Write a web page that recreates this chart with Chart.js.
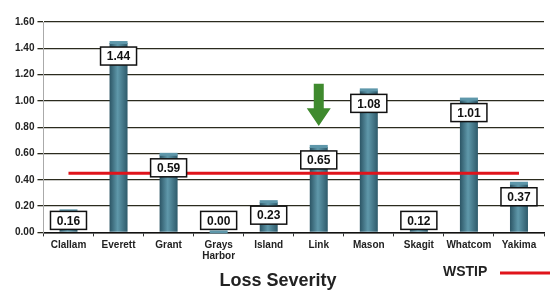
<!DOCTYPE html>
<html>
<head>
<meta charset="utf-8">
<script src="https://cdn.jsdelivr.net/npm/chart.js@4"></script>
<style>
  html, body { margin: 0; padding: 0; background: #fff; }
  #wrap { width: 550px; height: 294px; }
</style>
</head>
<body>
<div id="wrap"><canvas id="chart" width="550" height="294"></canvas></div>
<script>
const categories = ["Clallam", "Everett", "Grant", ["Grays", "Harbor"], "Island", "Link", "Mason", "Skagit", "Whatcom", "Yakima"];
const severity = [0.16, 1.44, 0.59, 0.00, 0.23, 0.65, 1.08, 0.12, 1.01, 0.37];
const wstip = [0.45, 0.45, 0.45, 0.45, 0.45, 0.45, 0.45, 0.45, 0.45, 0.45];
const yTicks = [0, 0.2, 0.4, 0.6, 0.8, 1.0, 1.2, 1.4, 1.6];
// arrow over "Link" pointing down (value range it spans)
const arrowIndex = 5;
const arrowFrom = 1.13;
const arrowTo = 0.81;

const font = "'Liberation Sans Narrow', 'Liberation Sans', Arial, sans-serif";

// cylinder-ish gradient per bar
function barFill(ctx) {
  const chart = ctx.chart;
  if (!chart.chartArea) return "#4a8396";
  const x = chart.scales.x.getPixelForValue(ctx.dataIndex);
  const g = chart.ctx.createLinearGradient(x - 9, 0, x + 9, 0);
  g.addColorStop(0, "#2c5565");
  g.addColorStop(0.45, "#5f98aa");
  g.addColorStop(1, "#2e5a6a");
  return g;
}

// boxed value labels, bar caps, legend and the green arrow
const extras = {
  id: "extras",
  afterDatasetsDraw(chart) {
    const c = chart.ctx;
    const meta = chart.getDatasetMeta(1);
    meta.data.forEach((bar) => {
      c.save();
      c.fillStyle = "#5e97aa";
      c.fillRect(bar.x - bar.width / 2, bar.y - 2, bar.width, 3);
      c.restore();
    });

    const ax = chart.scales.x.getPixelForValue(arrowIndex);
    const y1 = chart.scales.y.getPixelForValue(arrowFrom);
    const y2 = chart.scales.y.getPixelForValue(arrowTo);
    const headH = (y2 - y1) * 0.42;
    c.save();
    c.fillStyle = "#3f8a2e";
    c.beginPath();
    c.moveTo(ax - 5, y1);
    c.lineTo(ax + 5, y1);
    c.lineTo(ax + 5, y2 - headH);
    c.lineTo(ax + 12, y2 - headH);
    c.lineTo(ax, y2);
    c.lineTo(ax - 12, y2 - headH);
    c.lineTo(ax - 5, y2 - headH);
    c.closePath();
    c.fill();
    c.restore();
  },
  afterDraw(chart) {
    const c = chart.ctx;
    const meta = chart.getDatasetMeta(1);
    const bottom = chart.chartArea.bottom;
    meta.data.forEach((bar, i) => {
      const txt = severity[i].toFixed(2);
      const w = 36, h = 18;
      const cy = Math.min(bar.y + 13, bottom - 12);
      c.save();
      c.fillStyle = "#fff";
      c.strokeStyle = "#111";
      c.lineWidth = 1.5;
      c.fillRect(bar.x - w / 2, cy - h / 2, w, h);
      c.strokeRect(bar.x - w / 2, cy - h / 2, w, h);
      c.fillStyle = "#111";
      c.font = "bold 12px 'Liberation Sans', Arial, sans-serif";
      c.textAlign = "center";
      c.textBaseline = "middle";
      c.fillText(txt, bar.x, cy + 1);
      c.restore();
    });

    c.save();
    c.fillStyle = "#222";
    c.font = "bold 14px 'Liberation Sans', Arial, sans-serif";
    c.textAlign = "left";
    c.textBaseline = "middle";
    c.fillText("WSTIP", 443, 272);
    c.strokeStyle = "#e0141b";
    c.lineWidth = 3;
    c.beginPath();
    c.moveTo(500, 273);
    c.lineTo(550, 273);
    c.stroke();
    c.restore();
  }
};

new Chart(document.getElementById("chart"), {
  data: {
    labels: categories,
    datasets: [
      {
        type: "line",
        label: "WSTIP",
        data: wstip,
        borderColor: "#e0141b",
        borderWidth: 3,
        pointRadius: 0,
        order: 0
      },
      {
        type: "bar",
        label: "Loss Severity",
        data: severity,
        backgroundColor: barFill,
        maxBarThickness: 18,
        order: 1
      }
    ]
  },
  options: {
    responsive: false,
    animation: false,
    layout: { padding: { top: 22, right: 6, left: 12, bottom: 0 } },
    plugins: {
      legend: { display: false },
      tooltip: { enabled: false },
      title: {
        display: true,
        position: "bottom",
        text: "Loss Severity",
        color: "#222",
        font: { family: "'Liberation Sans', Arial, sans-serif", size: 18, weight: "bold" },
        padding: { top: 6, bottom: 2 }
      }
    },
    scales: {
      x: {
        grid: { display: true, drawOnChartArea: false, offset: true, tickLength: 4, color: "#333" },
        border: { color: "#111", width: 1.5 },
        ticks: {
          color: "#222",
          padding: 3,
          maxRotation: 0,
          autoSkip: false,
          font: { family: font, size: 10, weight: "bold", lineHeight: 1.1 }
        }
      },
      y: {
        min: 0,
        max: 1.6,
        afterBuildTicks: (axis) => { axis.ticks = yTicks.map(v => ({ value: v })); },
        grid: { color: "#2b2b1e", lineWidth: 1.3, tickLength: 6 },
        border: { color: "#aaa", width: 1 },
        ticks: {
          color: "#222",
          padding: 3,
          font: { family: font, size: 10, weight: "bold" },
          callback: (v) => Number(v).toFixed(2)
        }
      }
    }
  },
  plugins: [extras]
});
</script>
</body>
</html>
